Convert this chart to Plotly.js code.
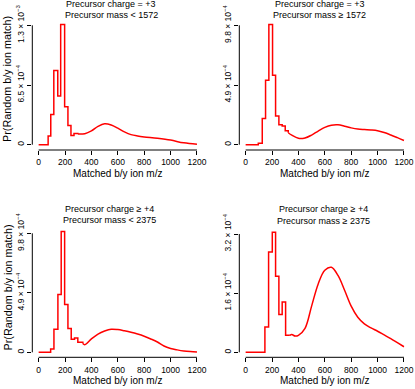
<!DOCTYPE html>
<html>
<head>
<meta charset="utf-8">
<script src="https://cdn.plot.ly/plotly-3.0.1.min.js"></script>
<style>html,body{margin:0;padding:0;background:#fff;}#chart{width:415px;height:389px;}</style>
</head>
<body>
<div id="chart"></div>
<script>
// ---------- data ----------
var xTicks = [0, 200, 400, 600, 800, 1000, 1200];

// Panel 1: charge = +3, mass < 1572
var p1Title = ["Precursor charge = +3", "Precursor mass < 1572"];
var p1Edges = [0, 72, 92, 115, 145, 167, 197, 222, 245, 268, 297];
var p1Steps = [0, 0.094e-3, 0.33e-3, 0.807e-3, 0.529e-3, 1.31e-3, 0.413e-3, 0.21e-3, 0.101e-3, 0.123e-3];
var p1CurveX = [297, 350, 400, 450, 500, 550, 600, 650, 700, 750, 800, 900, 1000, 1100, 1200];
var p1CurveY = [0.116e-3, 0.12e-3, 0.15e-3, 0.2e-3, 0.228e-3, 0.215e-3, 0.18e-3, 0.14e-3, 0.11e-3, 0.095e-3, 0.085e-3, 0.07e-3, 0.05e-3, 0.02e-3, 0.004e-3];
var p1TickVals = [0, 6.5e-4, 1.3e-3];
var p1TickText = ["0", "6.5 × 10<sup>−4</sup>", "1.3 × 10<sup>−3</sup>"];

// Panel 2: charge = +3, mass >= 1572
var p2Title = ["Precursor charge = +3", "Precursor mass ≥ 1572"];
var p2Edges = [0, 96, 126, 151, 176, 204, 227, 252, 277, 300, 323];
var p2Steps = [0, 0.011e-3, 0.216e-3, 0.53e-3, 0.986e-3, 0.571e-3, 0.235e-3, 0.164e-3, 0.153e-3, 0.115e-3];
var p2CurveX = [323, 350, 400, 450, 500, 550, 600, 650, 700, 750, 800, 850, 900, 950, 1000, 1050, 1100, 1150, 1200];
var p2CurveY = [0.098e-3, 0.078e-3, 0.052e-3, 0.055e-3, 0.079e-3, 0.112e-3, 0.142e-3, 0.16e-3, 0.163e-3, 0.152e-3, 0.138e-3, 0.128e-3, 0.124e-3, 0.121e-3, 0.115e-3, 0.1e-3, 0.08e-3, 0.058e-3, 0.035e-3];
var p2TickVals = [0, 4.9e-4, 9.8e-4];
var p2TickText = ["0", "4.9 × 10<sup>−4</sup>", "9.8 × 10<sup>−4</sup>"];

// Panel 3: charge >= +4, mass < 2375
var p3Title = ["Precursor charge ≥ +4", "Precursor mass < 2375"];
var p3Edges = [0, 91, 116, 146, 171, 197, 222, 247, 272, 297, 335];
var p3Steps = [0, 0.028e-3, 0.19e-3, 0.476e-3, 0.994e-3, 0.394e-3, 0.195e-3, 0.107e-3, 0.118e-3, 0.083e-3];
var p3CurveX = [335, 350, 400, 450, 500, 550, 600, 650, 700, 750, 800, 850, 900, 950, 1000, 1050, 1100, 1150, 1200];
var p3CurveY = [0.072e-3, 0.063e-3, 0.11e-3, 0.15e-3, 0.175e-3, 0.19e-3, 0.187e-3, 0.177e-3, 0.165e-3, 0.15e-3, 0.132e-3, 0.11e-3, 0.085e-3, 0.052e-3, 0.032e-3, 0.02e-3, 0.011e-3, 0.006e-3, 0.003e-3];
var p3TickVals = [0, 4.9e-4, 9.8e-4];
var p3TickText = ["0", "4.9 × 10<sup>−4</sup>", "9.8 × 10<sup>−4</sup>"];

// Panel 4: charge >= +4, mass >= 2375
var p4Title = ["Precursor charge ≥ +4", "Precursor mass ≥ 2375"];
var p4Edges = [0, 146, 174, 202, 227, 252, 277, 303, 335];
var p4Steps = [0, 0.0683e-3, 0.271e-3, 0.325e-3, 0.206e-3, 0.102e-3, 0.136e-3, 0.046e-3];
var p4CurveX = [335, 350, 375, 400, 450, 500, 550, 600, 650, 700, 750, 800, 850, 900, 950, 1000, 1050, 1100, 1150, 1200];
var p4CurveY = [0.046e-3, 0.048e-3, 0.044e-3, 0.046e-3, 0.065e-3, 0.125e-3, 0.185e-3, 0.222e-3, 0.23e-3, 0.208e-3, 0.168e-3, 0.125e-3, 0.095e-3, 0.077e-3, 0.066e-3, 0.057e-3, 0.047e-3, 0.037e-3, 0.026e-3, 0.015e-3];
var p4TickVals = [0, 1.6e-4, 3.2e-4];
var p4TickText = ["0", "1.6 × 10<sup>−4</sup>", "3.2 × 10<sup>−4</sup>"];

var xTitle = "Matched b/y ion m/z";
var yTitle = "Pr(Random b/y ion match)";

// ---------- layout geometry (pixels) ----------
var W = 415, H = 389;
var FONT = "Liberation Sans, Arial, Helvetica, sans-serif";
var RED = "#ff0000";

var panels = [
  {edges:p1Edges, steps:p1Steps, cx:p1CurveX, cy:p1CurveY, tv:p1TickVals, tt:p1TickText, title:p1Title,
   left:32.3, right:203.3, top:17, bottom:150, zeroY:144.7, topTickY:25.3,
   titleX:111, titleY:[4.3, 15], xtY:173.3, ytX:7, ytY:79},
  {edges:p2Edges, steps:p2Steps, cx:p2CurveX, cy:p2CurveY, tv:p2TickVals, tt:p2TickText, title:p2Title,
   left:239.3, right:410.3, top:17, bottom:150, zeroY:144.7, topTickY:25.3,
   titleX:319.5, titleY:[4.3, 15], xtY:173.8, ytX:null},
  {edges:p3Edges, steps:p3Steps, cx:p3CurveX, cy:p3CurveY, tv:p3TickVals, tt:p3TickText, title:p3Title,
   left:32.3, right:203.3, top:225, bottom:357.3, zeroY:352.3, topTickY:233.3,
   titleX:109.5, titleY:[209, 220.2], xtY:380, ytX:7, ytY:287.5},
  {edges:p4Edges, steps:p4Steps, cx:p4CurveX, cy:p4CurveY, tv:p4TickVals, tt:p4TickText, title:p4Title,
   left:239.3, right:410.3, top:225, bottom:357.3, zeroY:352.3, topTickY:234,
   titleX:323.3, titleY:[209.3, 220.7], xtY:380.5, ytX:null}
];

var traces = [], shapes = [], annotations = [];
var layout = {
  width: W, height: H,
  margin: {l:0, r:0, t:0, b:0},
  paper_bgcolor: "#fff", plot_bgcolor: "#fff",
  showlegend: false,
  font: {family: FONT, color: "#000"}
};

panels.forEach(function(p, i){
  var n = i + 1;
  var xa = n === 1 ? "x" : "x" + n;
  var ya = n === 1 ? "y" : "y" + n;
  var xKey = n === 1 ? "xaxis" : "xaxis" + n;
  var yKey = n === 1 ? "yaxis" : "yaxis" + n;

  var topTick = p.tv[p.tv.length - 1];
  var perPx = topTick / (p.zeroY - p.topTickY);
  var ymin = -(p.bottom - p.zeroY) * perPx;
  var ymax = (p.zeroY - p.top) * perPx;

  // step (histogram) part
  var sy = p.steps.concat([p.cy[0]]);
  traces.push({x: p.edges, y: sy, xaxis: xa, yaxis: ya, type: "scatter", mode: "lines",
    line: {color: RED, width: 1.5, shape: "hv"}, hoverinfo: "skip"});
  // smooth part
  traces.push({x: p.cx, y: p.cy, xaxis: xa, yaxis: ya, type: "scatter", mode: "lines",
    line: {color: RED, width: 1.5, shape: "spline", smoothing: 1}, hoverinfo: "skip"});

  layout[xKey] = {
    domain: [p.left / W, p.right / W], range: [-48, 1248], anchor: ya,
    tickvals: xTicks, ticktext: xTicks.map(String), tickmode: "array",
    ticks: "outside", ticklen: 4, tickwidth: 1, tickcolor: "#000",
    showgrid: false, zeroline: false, showline: false,
    tickfont: {family: FONT, size: 8.5, color: "#000"}
  };
  layout[yKey] = {
    domain: [1 - p.bottom / H, 1 - p.top / H], range: [ymin, ymax], anchor: xa,
    tickvals: p.tv, ticktext: p.tt, tickmode: "array", tickangle: -90,
    ticks: "outside", ticklen: 4, tickwidth: 1, tickcolor: "#000",
    showgrid: false, zeroline: false, showline: false,
    tickfont: {family: FONT, size: 8.5, color: "#000"}
  };

  // R-style axis lines spanning first to last tick
  shapes.push({type: "line", xref: xa, yref: ya + " domain", x0: xTicks[0], x1: xTicks[xTicks.length - 1], y0: 0, y1: 0,
    line: {color: "#000", width: 1}});
  shapes.push({type: "line", xref: xa + " domain", yref: ya, x0: 0, x1: 0, y0: p.tv[0], y1: topTick,
    line: {color: "#000", width: 1}});

  // panel titles (two lines)
  p.title.forEach(function(t, k){
    annotations.push({text: t, xref: "paper", yref: "paper", x: p.titleX / W, y: 1 - p.titleY[k] / H,
      xanchor: "center", yanchor: "middle", showarrow: false, font: {family: FONT, size: 9, color: "#000"}});
  });
  // x title
  annotations.push({text: xTitle, xref: "paper", yref: "paper", x: ((p.left + p.right) / 2) / W, y: 1 - p.xtY / H,
    xanchor: "center", yanchor: "middle", showarrow: false, font: {family: FONT, size: 10, color: "#000"}});
  // y title
  if (p.ytX !== null) {
    annotations.push({text: yTitle, xref: "paper", yref: "paper", x: p.ytX / W, y: 1 - p.ytY / H,
      xanchor: "center", yanchor: "middle", textangle: -90, showarrow: false,
      font: {family: FONT, size: 10.8, color: "#000"}});
  }
});

layout.shapes = shapes;
layout.annotations = annotations;

Plotly.newPlot("chart", traces, layout, {staticPlot: true, displayModeBar: false});
</script>
</body>
</html>
